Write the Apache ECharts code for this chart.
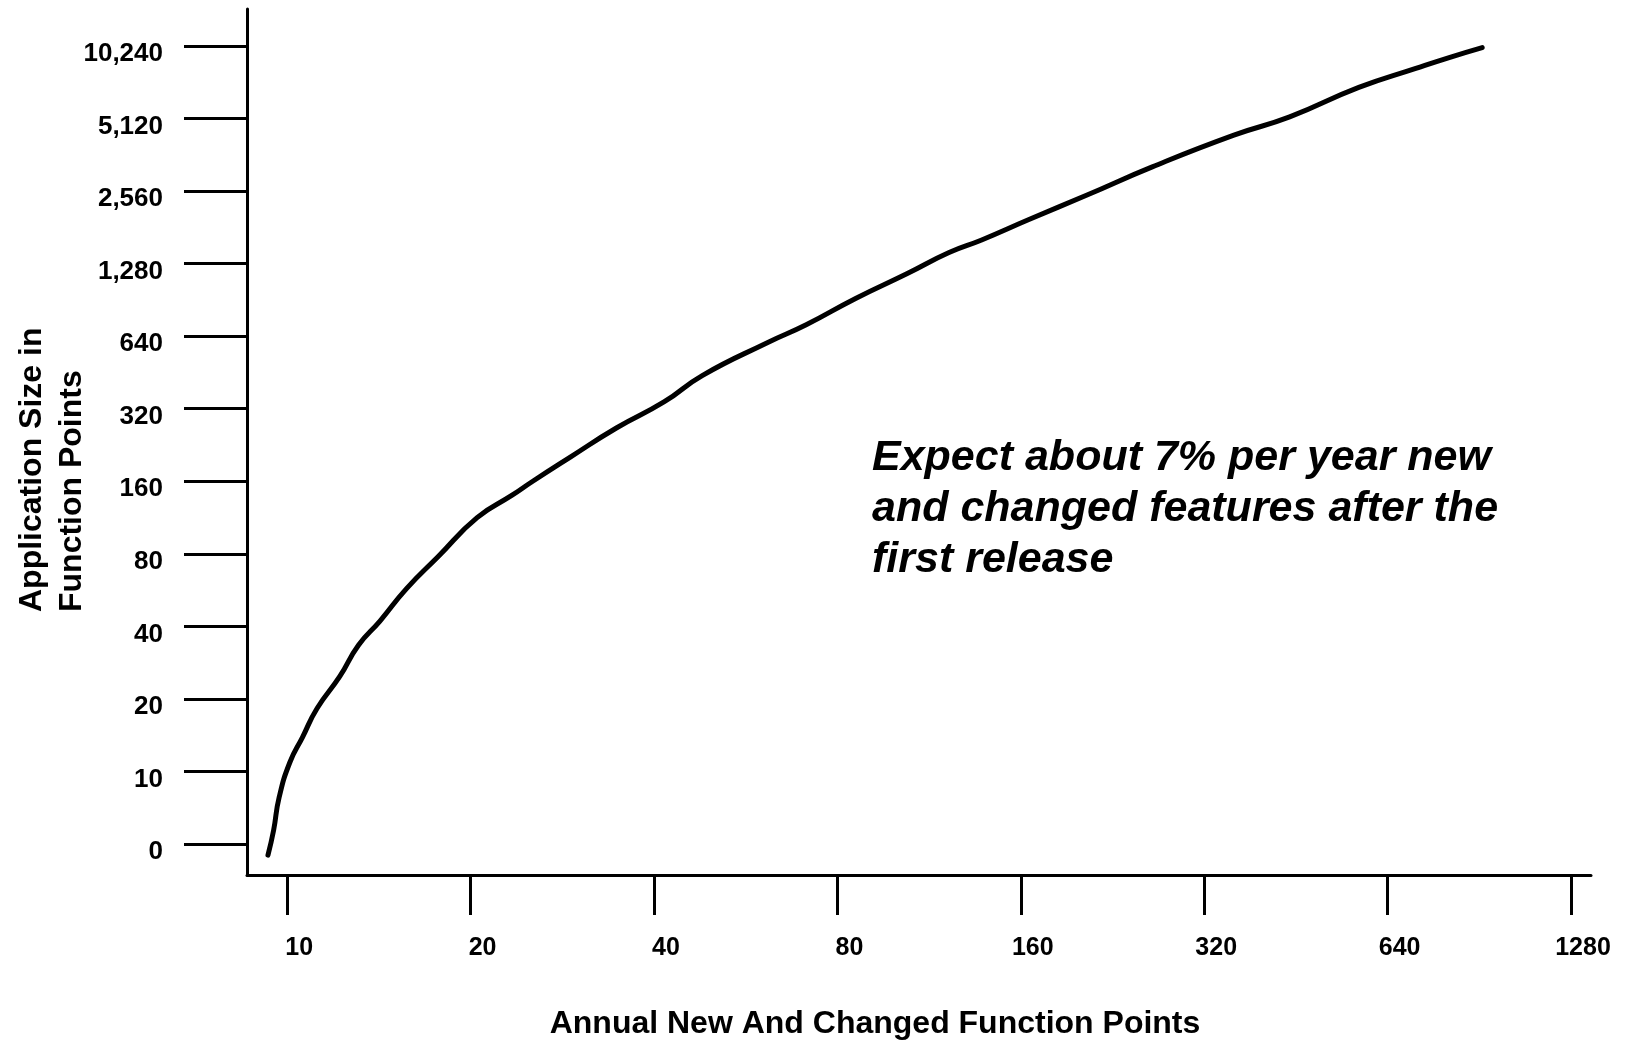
<!DOCTYPE html>
<html>
<head>
<meta charset="utf-8">
<title>Application size vs annual new and changed function points</title>
<script src="https://cdn.jsdelivr.net/npm/echarts@6/dist/echarts.min.js"></script>
<style>
  html, body { margin: 0; padding: 0; background: #fff; }
  #chart { width: 1634px; height: 1051px; }
</style>
</head>
<body>
<div id="chart"></div>
<script>
// both axes double at every tick (log2 scale)
const xTickValues = [10, 20, 40, 80, 160, 320, 640, 1280];
const xTickLabels = ['10', '20', '40', '80', '160', '320', '640', '1280'];
const yTickValues = [0, 10, 20, 40, 80, 160, 320, 640, 1280, 2560, 5120, 10240];
const yTickLabels = ['0', '10', '20', '40', '80', '160', '320', '640', '1,280', '2,560', '5,120', '10,240'];

// curve
const annualFP = [9.3, 9.5, 9.7, 10.1, 10.6, 11.2, 12.2, 13.1, 14.2, 15.7, 17.7, 20.5, 23.4, 25.3, 29.2, 34.7,
  41.6, 48, 61.5, 71.1, 85.7, 104, 122, 138, 165, 206, 263, 358, 442, 574, 712, 810, 915];
const appSize = [4.5, 5.7, 7.8, 10.9, 13.9, 18.3, 24.8, 33.5, 42.1, 57.4, 78, 113, 140, 160, 202, 266,
  342, 439, 602, 713, 917, 1161, 1422, 1603, 1948, 2468, 3221, 4361, 5191, 6880, 8255, 9177, 10070];

const note = 'Expect about 7% per year new\nand changed features after the\nfirst release';

// position on the doubling axes
function xPos(v) { return Math.log2(v / 10); }
function yPos(v) { return v <= 0 ? 0 : Math.log2(v / 10) + 1; }

const FONT = 'Liberation Sans, Arial, Helvetica, sans-serif';

let myChart = echarts.init(document.getElementById('chart'));

let axisLine = { show: true, onZero: false, lineStyle: { color: '#000', width: 3 } };

let option = {
  animation: false,
  backgroundColor: '#fff',
  grid: {
    left: 247,
    right: 43,
    top: 9,
    bottom: 176,
    containLabel: false,
    outerBoundsMode: 'none'
  },
  xAxis: {
    type: 'value',
    min: -0.219,
    max: 7.109,
    name: 'Annual New And Changed Function Points',
    nameLocation: 'middle',
    nameGap: 133,
    nameMoveOverlap: false,
    nameTextStyle: {
      fontFamily: FONT,
      fontWeight: 'bold',
      fontSize: 32,
      color: '#000',
      padding: [0, 88, 0, 0]
    },
    axisLine: axisLine,
    splitLine: { show: false },
    axisTick: {
      show: true,
      inside: false,
      length: 40,
      customValues: xTickValues.map(xPos),
      lineStyle: { color: '#000', width: 3 }
    },
    axisLabel: {
      customValues: xTickValues.map(xPos),
      margin: 61,
      fontFamily: FONT,
      fontWeight: 'bold',
      fontSize: 25,
      color: '#000',
      padding: [0, 0, 0, 24],
      formatter: (val) => xTickLabels[Math.round(val)]
    }
  },
  yAxis: {
    type: 'value',
    min: -0.426,
    max: 11.507,
    axisLine: axisLine,
    splitLine: { show: false },
    axisTick: {
      show: true,
      inside: false,
      length: 63,
      customValues: yTickValues.map(yPos),
      lineStyle: { color: '#000', width: 3 }
    },
    axisLabel: {
      customValues: yTickValues.map(yPos),
      margin: 84,
      fontFamily: FONT,
      fontWeight: 'bold',
      fontSize: 26,
      color: '#000',
      verticalAlign: 'top',
      lineHeight: 16,
      formatter: (val) => yTickLabels[Math.round(val)]
    }
  },
  graphic: [
    {
      // y axis title, two lines reading bottom to top
      type: 'text',
      x: 52,
      y: 612,
      rotation: Math.PI / 2,
      style: {
        text: 'Application Size in\nFunction Points',
        font: 'bold 32px ' + FONT,
        fill: '#000',
        align: 'left',
        verticalAlign: 'middle',
        lineHeight: 40
      }
    },
    {
      type: 'text',
      x: 872,
      y: 509,
      style: {
        text: note,
        font: 'italic bold 43px ' + FONT,
        fill: '#000',
        align: 'left',
        verticalAlign: 'middle',
        lineHeight: 51
      }
    }
  ],
  series: [{
    name: 'Application size',
    type: 'line',
    smooth: true,
    showSymbol: false,
    data: annualFP.map((fp, i) => [xPos(fp), yPos(appSize[i])]),
    lineStyle: { color: '#000', width: 5, cap: 'round', join: 'round' }
  }]
};

myChart.setOption(option, true);
window.addEventListener('resize', () => {
  myChart.resize();
});
</script>
</body>
</html>
